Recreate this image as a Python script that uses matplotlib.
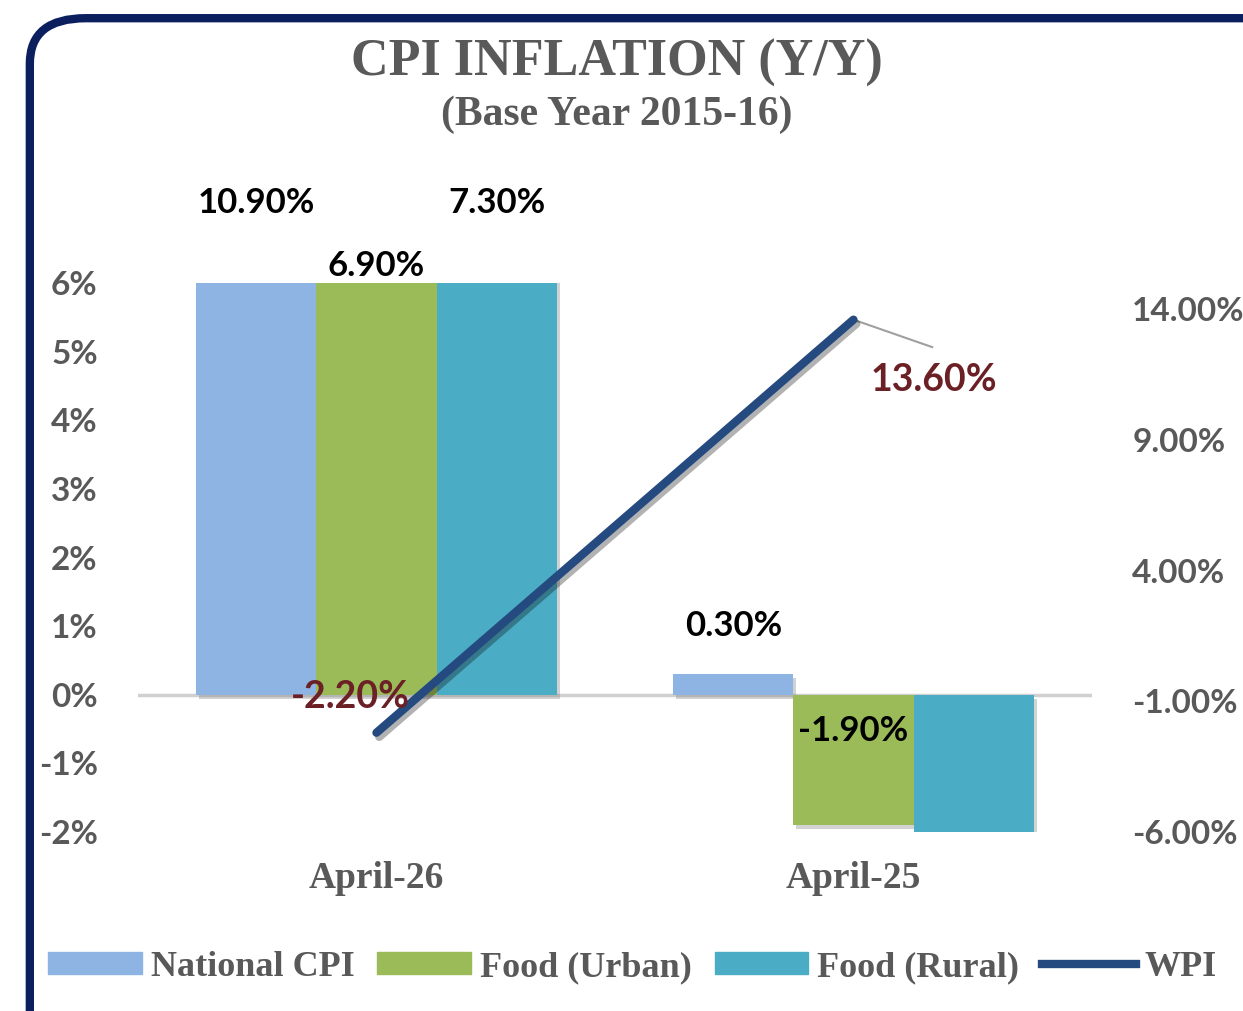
import numpy as np
import matplotlib
matplotlib.use("Agg")
import matplotlib.pyplot as plt
import matplotlib.patheffects as pe
from matplotlib.patches import FancyBboxPatch
from matplotlib.lines import Line2D
from matplotlib.patches import Patch

# datos
categorias = ["April-26", "April-25"]
series = ["National CPI", "Food (Urban)", "Food (Rural)"]
national_cpi = [10.9, 0.3]
food_urban = [6.9, -1.9]
food_rural = [7.3, -2.3]
wpi = [-2.2, 13.6]
etiquetas_barras = [["10.90%", "0.30%"], ["6.90%", "-1.90%"], ["7.30%", None]]
etiquetas_wpi = ["-2.20%", "13.60%"]

colores = ["#8DB4E2", "#9BBB59", "#4BACC6"]
color_wpi = "#244A80"
gris = "#595959"
granate = "#6B2026"

fig = plt.figure(figsize=(12.43, 10.11), dpi=100)
ax = fig.add_axes([0.111, 0.177, 0.7675, 0.543])
ax2 = ax.twinx()

x = np.arange(len(categorias))
ancho = 0.252
sombra = [pe.SimplePatchShadow(offset=(2, -3), shadow_rgbFace="0.5", alpha=0.35), pe.Normal()]

valores = [national_cpi, food_urban, food_rural]
for i, (vals, col) in enumerate(zip(valores, colores)):
    bars = ax.bar(x + (i - 1) * ancho, vals, ancho, color=col, zorder=3)
    for b in bars:
        b.set_path_effects(sombra)

ax.axhline(0, color="#d0d0d0", lw=2.5, zorder=2)
ax.set_xlim(-0.5, 1.5)
ax.set_ylim(-2, 6)
ax.set_yticks(range(-2, 7))
ax.set_yticklabels([f"{v}%" for v in range(-2, 7)])
ax.set_xticks([])

ax2.set_ylim(-6, 15)
ticks_der = [-6, -1, 4, 9, 14]
ax2.set_yticks(ticks_der)
ax2.set_yticklabels([f"{v:.2f}%" for v in ticks_der])

for a in (ax, ax2):
    for s in a.spines.values():
        s.set_visible(False)
    a.tick_params(length=0, labelsize=24, labelcolor=gris, pad=29)
    for t in a.get_yticklabels():
        t.set_fontfamily("Lato")
        t.set_fontweight("bold")

ax2.plot(x, wpi, color=color_wpi, lw=6, solid_capstyle="round", zorder=4,
         path_effects=[pe.SimpleLineShadow(offset=(2, -3), alpha=0.3), pe.Normal()])

# etiquetas de barras
fuente = dict(fontfamily="Lato", fontweight="bold", fontsize=25, color="black",
              ha="center", va="center", clip_on=False)
pos_y = [[7.17, 1.0], [6.25, -0.53], [7.17, None]]
for i in range(3):
    for j in range(2):
        if etiquetas_barras[i][j]:
            ax.text(x[j] + (i - 1) * ancho, pos_y[i][j], etiquetas_barras[i][j], **fuente)

# etiquetas WPI
ax2.text(x[0] - 0.055, -0.85, etiquetas_wpi[0], fontfamily="Lato", fontweight="bold",
         fontsize=27, color=granate, ha="center", va="center", zorder=5)
ax2.plot([x[1], x[1] + 0.165], [wpi[1], wpi[1] - 1.05], color="#a0a0a0", lw=1.5, zorder=3)
ax2.text(x[1] + 0.168, 11.3, etiquetas_wpi[1], fontfamily="Lato", fontweight="bold",
         fontsize=27, color=granate, ha="center", va="center")

# categorias
for xi, c in zip(x, categorias):
    ax.text(xi, -2.68, c, fontfamily="Liberation Serif", fontweight="bold", fontsize=27,
            color=gris, ha="center", va="center", clip_on=False)

# titulo
fig.text(0.496, 0.938, "CPI INFLATION (Y/Y)", fontfamily="Liberation Serif", fontweight="bold",
         fontsize=37.5, color=gris, ha="center", va="center")
fig.text(0.496, 0.886, "(Base Year 2015-16)", fontfamily="Liberation Serif", fontweight="bold",
         fontsize=30, color=gris, ha="center", va="center")

# leyenda
handles = [Patch(color=c) for c in colores] + [Line2D([0], [0], color=color_wpi, lw=6)]
leg = fig.legend(handles, series + ["WPI"], loc="center", bbox_to_anchor=(0.509, 0.043), ncol=4,
                 frameon=False, handlelength=2.6, handleheight=0.55, handletextpad=0.25,
                 columnspacing=0.62, prop=dict(family="Liberation Serif", weight="bold", size=26))
for t in leg.get_texts():
    t.set_color(gris)

# marco redondeado
marco = FancyBboxPatch((0.024, -0.1), 1.1, 1.082, boxstyle="round,pad=0,rounding_size=0.045",
                       transform=fig.transFigure, fill=False, ec="#0B1F5E", lw=6, clip_on=False)
fig.patches.append(marco)

fig.savefig("out.png", dpi=100)
